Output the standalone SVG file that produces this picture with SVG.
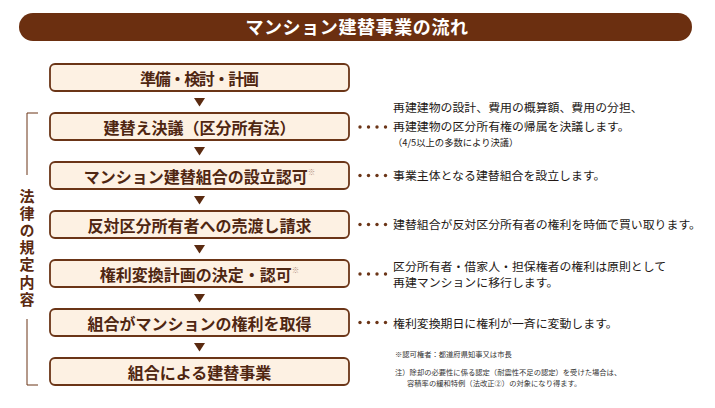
<svg xmlns="http://www.w3.org/2000/svg" width="715" height="408" viewBox="0 0 715 408">
<style>
  text { font-family: "Noto Sans CJK JP", "Noto Sans", sans-serif; }
  .title { font-size: 18px; font-weight: 700; fill: #ffffff; letter-spacing: 0.6px; }
  .box { fill: #fdf1e3; stroke: #6b3517; stroke-width: 1.8; }
  .bt { font-size: 16px; font-weight: 700; fill: #4f2611; text-anchor: middle; dominant-baseline: central; }
  .sup { font-size: 7.5px; font-weight: 400; fill: #b08f80; }
  .arrow { fill: #5a2a10; }
  .dot { fill: #6b3517; }
  .desc { font-size: 11.9px; fill: #231815; }
  .small { font-size: 9.3px; fill: #231815; }
  .note { font-size: 7.3px; fill: #333333; }
  .side { font-size: 15px; font-weight: 700; fill: #5a2a10; writing-mode: vertical-rl; letter-spacing: 2.2px; }
  .bracket { fill: none; stroke: #6b3517; stroke-width: 1; }
</style>
<defs>
  <g id="dots">
    <circle class="dot" cx="360" cy="0" r="1.7"/>
    <circle class="dot" cx="368.5" cy="0" r="1.7"/>
    <circle class="dot" cx="377" cy="0" r="1.7"/>
    <circle class="dot" cx="385.5" cy="0" r="1.7"/>
  </g>
</defs>

<g id="header">
  <rect x="19" y="13" width="673" height="28" rx="14" fill="#6b2f10"/>
  <text class="title" x="357" y="33.5" text-anchor="middle">マンション建替事業の流れ</text>
</g>

<g id="bracket-label">
  <path class="bracket" d="M38,113 H27 V175 M27,319 V385 H38"/>
  <text class="side" x="27" y="188.5">法律の規定内容</text>
</g>

<g id="connectors">
  <polygon class="arrow" points="194,98 205,98 199.5,106.5"/>
  <polygon class="arrow" points="194,147 205,147 199.5,155.5"/>
  <polygon class="arrow" points="194,196 205,196 199.5,204.5"/>
  <polygon class="arrow" points="194,245 205,245 199.5,253.5"/>
  <polygon class="arrow" points="194,294 205,294 199.5,302.5"/>
  <polygon class="arrow" points="194,343 205,343 199.5,351.5"/>
  <use href="#dots" y="127"/>
  <use href="#dots" y="175.5"/>
  <use href="#dots" y="224.5"/>
  <use href="#dots" y="274"/>
  <use href="#dots" y="322.5"/>
</g>

<g id="node1">
  <rect class="box" x="50" y="64" width="299" height="27" rx="5"/>
  <text class="bt" x="199.5" y="77.5" textLength="119" lengthAdjust="spacing">準備・検討・計画</text>
</g>
<g id="node2">
  <rect class="box" x="50" y="113" width="299" height="27" rx="5"/>
  <text class="bt" x="199.5" y="126.5">建替え決議（区分所有法）</text>
</g>
<g id="node3">
  <rect class="box" x="50" y="162" width="299" height="27" rx="5"/>
  <text class="bt" x="199.5" y="175.5">マンション建替組合の設立認可<tspan class="sup" dy="-5">※</tspan></text>
</g>
<g id="node4">
  <rect class="box" x="50" y="211" width="299" height="27" rx="5"/>
  <text class="bt" x="199.5" y="224.5">反対区分所有者への売渡し請求</text>
</g>
<g id="node5">
  <rect class="box" x="50" y="260" width="299" height="27" rx="5"/>
  <text class="bt" x="199.5" y="273.5">権利変換計画の決定・認可<tspan class="sup" dy="-5">※</tspan></text>
</g>
<g id="node6">
  <rect class="box" x="50" y="309" width="299" height="27" rx="5"/>
  <text class="bt" x="199.5" y="322.5">組合がマンションの権利を取得</text>
</g>
<g id="node7">
  <rect class="box" x="50" y="358" width="299" height="27" rx="5"/>
  <text class="bt" x="199.5" y="371.5">組合による建替事業</text>
</g>

<g id="descriptions">
  <text class="desc" x="393" y="112">再建建物の設計、費用の概算額、費用の分担、</text>
  <text class="desc" x="393" y="131">再建建物の区分所有権の帰属を決議します。</text>
  <text class="small" x="393" y="145.5">（4/5以上の多数により決議）</text>
  <text class="desc" x="393" y="180">事業主体となる建替組合を設立します。</text>
  <text class="desc" x="393" y="229">建替組合が反対区分所有者の権利を時価で買い取ります。</text>
  <text class="desc" x="393" y="271">区分所有者・借家人・担保権者の権利は原則として</text>
  <text class="desc" x="393" y="287">再建マンションに移行します。</text>
  <text class="desc" x="393" y="327.5">権利変換期日に権利が一斉に変動します。</text>
</g>

<g id="notes">
  <text class="note" x="395" y="356.5">※認可権者：都道府県知事又は市長</text>
  <text class="note" x="395" y="374.5">注）除却の必要性に係る認定（耐震性不足の認定）を受けた場合は、</text>
  <text class="note" x="407" y="386">容積率の緩和特例（法改正②）の対象になり得ます。</text>
</g>
</svg>
